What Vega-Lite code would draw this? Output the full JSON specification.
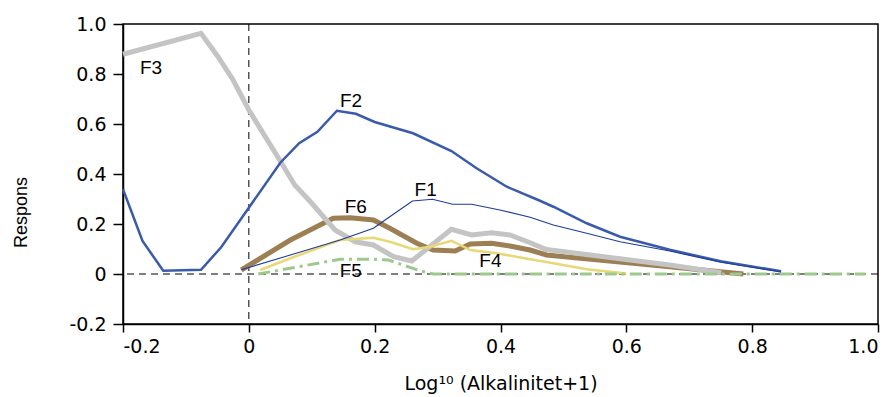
{
  "$schema": "https://vega.github.io/schema/vega-lite/v6.json",
  "width": 755,
  "height": 300,
  "autosize": {"type": "none"},
  "padding": {"left": 123, "top": 24, "right": 15, "bottom": 73},
  "background": "white",
  "config": {
    "view": {"stroke": "black", "strokeWidth": 1.5},
    "font": "Liberation Sans",
    "axis": {
      "grid": false,
      "domainColor": "black",
      "domainWidth": 1.5,
      "tickColor": "black",
      "tickWidth": 1.5,
      "labelFont": "DejaVu Sans",
      "labelFontSize": 19,
      "labelColor": "black",
      "titleFont": "DejaVu Sans",
      "titleFontSize": 19,
      "titleFontWeight": "normal",
      "titleColor": "black"
    }
  },
  "data": {
    "values": [
      {"s": "F2", "x": -0.2, "y": 0.339},
      {"s": "F2", "x": -0.169, "y": 0.132},
      {"s": "F2", "x": -0.136, "y": 0.013},
      {"s": "F2", "x": -0.076, "y": 0.017},
      {"s": "F2", "x": -0.044, "y": 0.107},
      {"s": "F2", "x": 0.0, "y": 0.265},
      {"s": "F2", "x": 0.05, "y": 0.445},
      {"s": "F2", "x": 0.08, "y": 0.523},
      {"s": "F2", "x": 0.109, "y": 0.569},
      {"s": "F2", "x": 0.14, "y": 0.653},
      {"s": "F2", "x": 0.17, "y": 0.641},
      {"s": "F2", "x": 0.2, "y": 0.608},
      {"s": "F2", "x": 0.261, "y": 0.563},
      {"s": "F2", "x": 0.322, "y": 0.492},
      {"s": "F2", "x": 0.362, "y": 0.423},
      {"s": "F2", "x": 0.41, "y": 0.349},
      {"s": "F2", "x": 0.46, "y": 0.296},
      {"s": "F2", "x": 0.484, "y": 0.269},
      {"s": "F2", "x": 0.537, "y": 0.203},
      {"s": "F2", "x": 0.59, "y": 0.149},
      {"s": "F2", "x": 0.669, "y": 0.097},
      {"s": "F2", "x": 0.75, "y": 0.051},
      {"s": "F2", "x": 0.846, "y": 0.011},
      {"s": "F1", "x": -0.012, "y": 0.017},
      {"s": "F1", "x": 0.066, "y": 0.076},
      {"s": "F1", "x": 0.145, "y": 0.136},
      {"s": "F1", "x": 0.198, "y": 0.183},
      {"s": "F1", "x": 0.224, "y": 0.229},
      {"s": "F1", "x": 0.26, "y": 0.292},
      {"s": "F1", "x": 0.292, "y": 0.299},
      {"s": "F1", "x": 0.324, "y": 0.279},
      {"s": "F1", "x": 0.354, "y": 0.279},
      {"s": "F1", "x": 0.399, "y": 0.256},
      {"s": "F1", "x": 0.447, "y": 0.227},
      {"s": "F1", "x": 0.484, "y": 0.196},
      {"s": "F1", "x": 0.537, "y": 0.163},
      {"s": "F1", "x": 0.59, "y": 0.129},
      {"s": "F1", "x": 0.669, "y": 0.092},
      {"s": "F1", "x": 0.75, "y": 0.047},
      {"s": "F1", "x": 0.846, "y": 0.008},
      {"s": "F3", "x": -0.2, "y": 0.879},
      {"s": "F3", "x": -0.076, "y": 0.963},
      {"s": "F3", "x": -0.049, "y": 0.869},
      {"s": "F3", "x": -0.025, "y": 0.776},
      {"s": "F3", "x": 0.0, "y": 0.656},
      {"s": "F3", "x": 0.049, "y": 0.456},
      {"s": "F3", "x": 0.073, "y": 0.356},
      {"s": "F3", "x": 0.1, "y": 0.283},
      {"s": "F3", "x": 0.137, "y": 0.176},
      {"s": "F3", "x": 0.169, "y": 0.129},
      {"s": "F3", "x": 0.198, "y": 0.116},
      {"s": "F3", "x": 0.23, "y": 0.069},
      {"s": "F3", "x": 0.259, "y": 0.052},
      {"s": "F3", "x": 0.322, "y": 0.179},
      {"s": "F3", "x": 0.354, "y": 0.156},
      {"s": "F3", "x": 0.386, "y": 0.165},
      {"s": "F3", "x": 0.415, "y": 0.156},
      {"s": "F3", "x": 0.447, "y": 0.125},
      {"s": "F3", "x": 0.473, "y": 0.098},
      {"s": "F3", "x": 0.669, "y": 0.036},
      {"s": "F3", "x": 0.751, "y": 0.005},
      {"s": "F6", "x": -0.012, "y": 0.016},
      {"s": "F6", "x": 0.066, "y": 0.136},
      {"s": "F6", "x": 0.092, "y": 0.169},
      {"s": "F6", "x": 0.134, "y": 0.223},
      {"s": "F6", "x": 0.161, "y": 0.225},
      {"s": "F6", "x": 0.198, "y": 0.216},
      {"s": "F6", "x": 0.224, "y": 0.183},
      {"s": "F6", "x": 0.267, "y": 0.123},
      {"s": "F6", "x": 0.293, "y": 0.096},
      {"s": "F6", "x": 0.328, "y": 0.092},
      {"s": "F6", "x": 0.352, "y": 0.12},
      {"s": "F6", "x": 0.386, "y": 0.123},
      {"s": "F6", "x": 0.415, "y": 0.112},
      {"s": "F6", "x": 0.447, "y": 0.096},
      {"s": "F6", "x": 0.473, "y": 0.076},
      {"s": "F6", "x": 0.669, "y": 0.029},
      {"s": "F6", "x": 0.786, "y": 0.0},
      {"s": "F4", "x": 0.018, "y": 0.016},
      {"s": "F4", "x": 0.066, "y": 0.063},
      {"s": "F4", "x": 0.145, "y": 0.136},
      {"s": "F4", "x": 0.198, "y": 0.145},
      {"s": "F4", "x": 0.224, "y": 0.129},
      {"s": "F4", "x": 0.261, "y": 0.099},
      {"s": "F4", "x": 0.288, "y": 0.109},
      {"s": "F4", "x": 0.322, "y": 0.133},
      {"s": "F4", "x": 0.352, "y": 0.096},
      {"s": "F4", "x": 0.394, "y": 0.083},
      {"s": "F4", "x": 0.447, "y": 0.059},
      {"s": "F4", "x": 0.484, "y": 0.043},
      {"s": "F4", "x": 0.537, "y": 0.019},
      {"s": "F4", "x": 0.6, "y": 0.002},
      {"s": "F5", "x": 0.015, "y": 0.0},
      {"s": "F5", "x": 0.145, "y": 0.059},
      {"s": "F5", "x": 0.198, "y": 0.059},
      {"s": "F5", "x": 0.222, "y": 0.056},
      {"s": "F5", "x": 0.272, "y": 0.013},
      {"s": "F5", "x": 0.293, "y": 0.0},
      {"s": "F5", "x": 0.98, "y": 0.0}
    ]
  },
  "encoding": {
    "x": {
      "field": "x",
      "type": "quantitative",
      "scale": {"domain": [-0.2, 1.0], "nice": false, "zero": false},
      "axis": {
        "values": [-0.2, 0, 0.2, 0.4, 0.6, 0.8, 1.0],
        "tickSize": 8,
        "labelPadding": 5,
        "labelExpr": "abs(datum.value) < 1e-9 ? '0' : (datum.value < 0 ? '-' + format(-datum.value, '.1f') : format(datum.value, '.1f'))",
        "title": "Log¹⁰ (Alkalinitet+1)",
        "titleBaseline": "alphabetic",
        "titleY": 65
      }
    },
    "y": {
      "field": "y",
      "type": "quantitative",
      "scale": {"domain": [-0.2, 1.0], "nice": false, "zero": false},
      "axis": {
        "values": [-0.2, 0, 0.2, 0.4, 0.6, 0.8, 1.0],
        "tickSize": 10,
        "labelPadding": 7,
        "labelExpr": "abs(datum.value) < 1e-9 ? '0' : (datum.value < 0 ? '-' + format(-datum.value, '.1f') : format(datum.value, '.1f'))",
        "title": "Respons",
        "titleFont": "Liberation Sans",
        "titleFontSize": 18,
        "titleAngle": -90,
        "titleAlign": "center",
        "titleBaseline": "middle",
        "titleX": -102,
        "titleY": 188
      }
    }
  },
  "layer": [
    {
      "data": {"values": [{"z": 0}]},
      "mark": {"type": "rule", "color": "black", "strokeWidth": 1, "strokeDash": [7, 5]},
      "encoding": {"y": {"field": "z", "type": "quantitative"}, "x": null}
    },
    {
      "data": {"values": [{"z": 0}]},
      "mark": {"type": "rule", "color": "black", "strokeWidth": 1, "strokeDash": [7, 5]},
      "encoding": {"x": {"field": "z", "type": "quantitative"}, "y": null}
    },
    {
      "transform": [{"filter": "datum.s == 'F6'"}],
      "mark": {"type": "line", "color": "#9c7f52", "strokeWidth": 5}
    },
    {
      "transform": [{"filter": "datum.s == 'F3'"}],
      "mark": {"type": "line", "color": "#c4c4c4", "strokeWidth": 5}
    },
    {
      "transform": [{"filter": "datum.s == 'F4'"}],
      "mark": {"type": "line", "color": "#e8d876", "strokeWidth": 2.5}
    },
    {
      "transform": [{"filter": "datum.s == 'F5'"}],
      "mark": {"type": "line", "color": "#9dc98f", "strokeWidth": 3, "strokeDash": [12, 5, 3, 5]}
    },
    {
      "transform": [{"filter": "datum.s == 'F2'"}],
      "mark": {"type": "line", "color": "#3a5bab", "strokeWidth": 2.5}
    },
    {
      "transform": [{"filter": "datum.s == 'F1'"}],
      "mark": {"type": "line", "color": "#1f3d99", "strokeWidth": 1.2}
    },
    {
      "data": {
        "values": [
          {"label": "F3", "x": -0.1555, "y": 0.824},
          {"label": "F2", "x": 0.1624, "y": 0.692},
          {"label": "F6", "x": 0.17, "y": 0.27},
          {"label": "F1", "x": 0.281, "y": 0.336},
          {"label": "F5", "x": 0.162, "y": 0.013},
          {"label": "F4", "x": 0.384, "y": 0.053}
        ]
      },
      "mark": {"type": "text", "font": "Liberation Sans", "fontSize": 19, "color": "black", "align": "center", "baseline": "middle"},
      "encoding": {"text": {"field": "label"}}
    }
  ]
}
